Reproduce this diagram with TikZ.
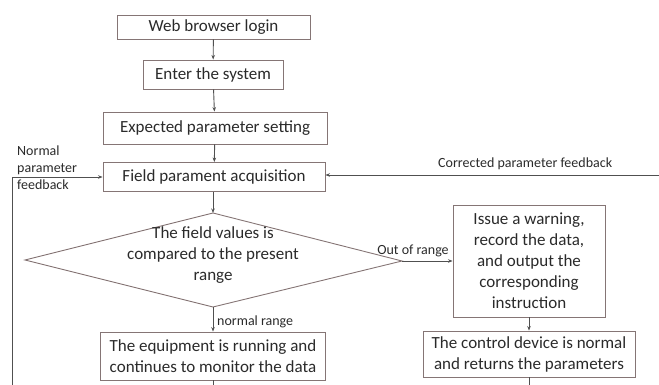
\documentclass[tikz,border=0pt]{standalone}
\usepackage{fontspec}
\setmainfont{Carlito}
\usetikzlibrary{arrows.meta}
\definecolor{boxc}{HTML}{857575}
\definecolor{linec}{HTML}{505050}
\definecolor{txtc}{HTML}{2A2A2A}
\begin{document}
\begin{tikzpicture}[x=1pt,y=-1pt,
  every node/.style={text=txtc},
  box/.style={draw=boxc, line width=0.9pt, inner sep=0pt, align=center, font=\fontsize{17}{21}\selectfont},
  lbl/.style={font=\fontsize{14}{17}\selectfont, inner sep=0pt},
  conn/.style={draw=linec, line width=0.9pt, -{Stealth[length=4.5pt,width=3.5pt]}},
  plain/.style={draw=linec, line width=0.9pt}]
\useasboundingbox (0,0) rectangle (659,385);
\node[box, minimum width=193pt, minimum height=24pt] (b1) at (213.5,27) {Web browser login};
\node[box, minimum width=140pt, minimum height=29pt] (b2) at (213,74.5) {Enter the system};
\node[box, minimum width=224pt, minimum height=32pt] (b3) at (215,128) {Expected parameter setting};
\node[box, minimum width=222pt, minimum height=29pt] (b4) at (214,177) {Field parament acquisition};
\coordinate (dt) at (213,213);
\coordinate (dl) at (25,260);
\coordinate (db) at (213,307);
\coordinate (dr) at (402,261);
\draw[boxc, line width=0.9pt] (dt) -- (dr) -- (db) -- (dl) -- cycle;
\node[align=center, font=\fontsize{17}{21}\selectfont, inner sep=0pt] (dtext) at (213,255) {The field values is\\compared to the present\\range};
\node[box, minimum width=225pt, minimum height=48pt] (b5) at (213,356) {The equipment is running and\\continues to monitor the data};
\node[box, minimum width=152pt, minimum height=112pt] (b6) at (529,261) {Issue a warning,\\record the data,\\and output the\\corresponding\\instruction};
\node[box, minimum width=212pt, minimum height=46pt] (b7) at (529,354) {The control device is normal\\and returns the parameters};
\coordinate (lbot) at (12,385);
\coordinate (lcorner) at (12,177);
\coordinate (rend) at (659,175);
\coordinate (b5end) at (213,385);
\coordinate (b7end) at (529,385);
\draw[conn] (b1) -- (b2);
\draw[conn] (b2) -- (b3);
\draw[conn] (b3) -- (b4);
\draw[conn] (b4.south -| dt) -- (dt);
\draw[conn] (db) -- (b5.north -| db);
\draw[conn] (dr) -- (b6.west |- dr);
\draw[conn] (b6) -- (b7);
\draw[plain] (b5) -- (b5end);
\draw[plain] (b7) -- (b7end);
\draw[conn] (lbot) -- (lcorner) -- (b4.west |- lcorner);
\draw[conn] (rend) -- (b4.east |- rend);
\node[lbl, anchor=west] (nrl) at (217,322) {normal range};
\node[lbl, anchor=south] (oor) at (413,257) {Out of range};
\node[lbl, anchor=west] (cpf) at (438,164) {Corrected parameter feedback};
\node[lbl, anchor=north west, align=left] (npf) at (17,146) {Normal\\parameter\\feedback};
\end{tikzpicture}
\end{document}
